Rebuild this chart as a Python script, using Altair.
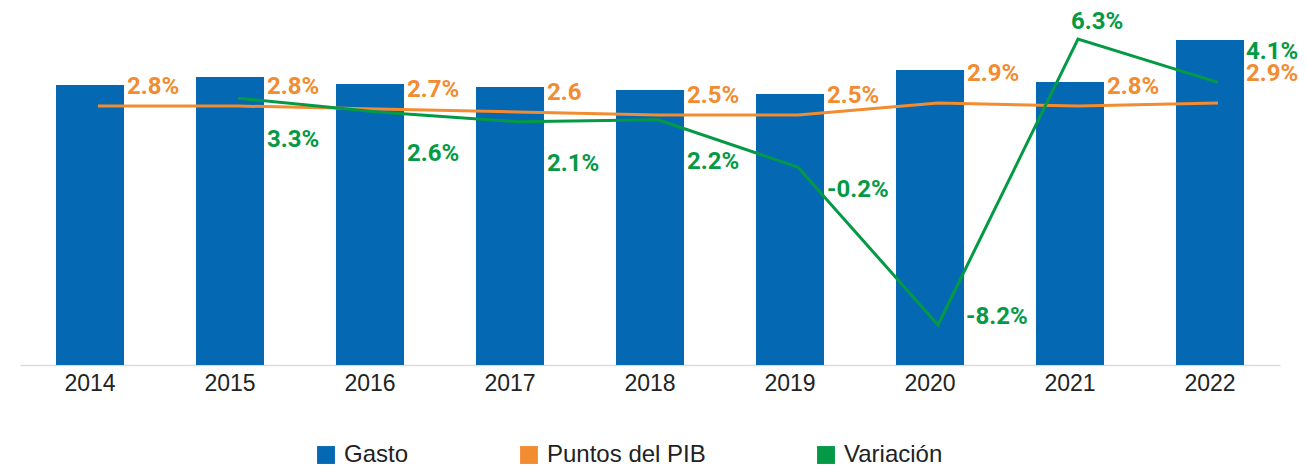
import altair as alt
import pandas as pd

years = ["2014", "2015", "2016", "2017", "2018", "2019", "2020", "2021", "2022"]
gasto = [280, 288, 281, 278, 275, 271, 295, 283, 325]
pib = [2.8, 2.8, 2.7, 2.6, 2.5, 2.5, 2.9, 2.8, 2.9]
pib_labels = ["2.8%", "2.8%", "2.7%", "2.6", "2.5%", "2.5%", "2.9%", "2.8%", "2.9%"]
variacion = [None, 3.3, 2.6, 2.1, 2.2, -0.2, -8.2, 6.3, 4.1]
var_labels = ["", "3.3%", "2.6%", "2.1%", "2.2%", "-0.2%", "-8.2%", "6.3%", "4.1%"]
series = ["Gasto", "Puntos del PIB", "Variación"]
colors = ["#0568B3", "#F28C30", "#049A45"]

df = pd.DataFrame({
    "year": years, "gasto": gasto, "pib": pib, "pib_label": pib_labels,
    "var": variacion, "var_label": var_labels, "serie": "Gasto",
})

LABEL_FONT = "Roboto"
x = alt.X(
    "year:N", sort=years,
    scale=alt.Scale(paddingInner=0.514, paddingOuter=0.257),
    axis=alt.Axis(title=None, ticks=False, labelAngle=0, labelFontSize=23,
                  labelFont="Liberation Sans", labelColor="#222222", labelPadding=7,
                  domainColor="#DCDCDC", domainWidth=1.5, grid=False),
)
y_bar = alt.Y("gasto:Q", scale=alt.Scale(domain=[0, 355], nice=False), axis=None)
y_pib = alt.Y("pib:Q", scale=alt.Scale(domain=[-5.833, 6.0], nice=False, zero=False), axis=None)
y_var = alt.Y("var:Q", scale=alt.Scale(domain=[-10.23, 7.77], nice=False, zero=False), axis=None)

base = alt.Chart(df)

bars = base.mark_bar().encode(
    x=x, y=y_bar,
    color=alt.Color("serie:N", scale=alt.Scale(domain=series, range=colors),
                    legend=alt.Legend(title=None, orient="none", legendX=294, legendY=433,
                                      direction="horizontal", symbolType="square",
                                      symbolSize=320, symbolStrokeWidth=0,
                                      labelFontSize=24, labelFont="Liberation Sans",
                                      labelColor="#222222", columnPadding=108, labelOffset=6)),
)

pib_line = base.mark_line(color=colors[1], strokeWidth=3, xOffset=8).encode(x=x, y=y_pib)
var_line = base.transform_filter("isValid(datum.var)").mark_line(
    color=colors[2], strokeWidth=3, xOffset=8).encode(x=x, y=y_var)


def pib_text(sel, dx, dy):
    return base.transform_filter(alt.FieldOneOfPredicate(field="year", oneOf=sel)).mark_text(
        align="left", baseline="middle", dx=dx, dy=dy, font=LABEL_FONT, fontWeight="bold",
        fontSize=24, color=colors[1]).encode(x=x, y=y_pib, text="pib_label:N")


def var_text(sel, dx, dy):
    return base.transform_filter(alt.FieldOneOfPredicate(field="year", oneOf=sel)).mark_text(
        align="left", baseline="middle", dx=dx, dy=dy, font=LABEL_FONT, fontWeight="bold",
        fontSize=24, color=colors[2]).encode(x=x, y=y_var, text="var_label:N")


layers = [
    bars, pib_line, var_line,
    pib_text(["2014", "2015", "2016", "2017", "2018", "2019", "2021"], 37, -19),
    pib_text(["2020"], 37, -29),
    pib_text(["2022"], 36, -29),
    var_text(["2015", "2016", "2017", "2018"], 37, 42),
    var_text(["2019"], 37, 23),
    var_text(["2020"], 36, -8),
    var_text(["2021"], 1, -17),
    var_text(["2022"], 36, -30),
]

chart = alt.layer(*layers).resolve_scale(y="independent").properties(
    width=1260, height=355,
    autosize=alt.AutoSizeParams(type="none"),
    padding={"left": 12, "top": 2, "right": 18, "bottom": 100},
).configure_view(stroke=None)

chart.save("out.html", embed_options={"renderer": "svg", "actions": False})
